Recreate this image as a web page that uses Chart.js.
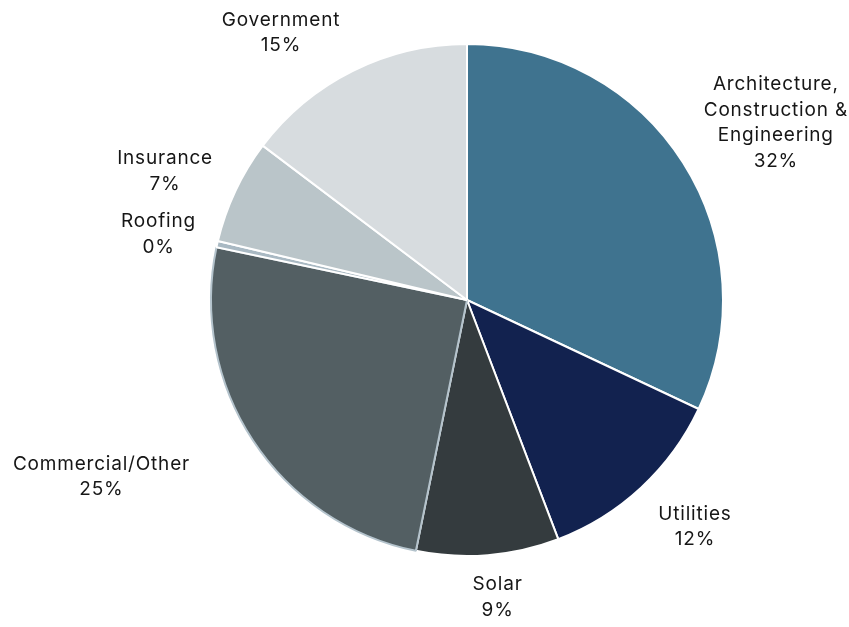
<!DOCTYPE html>
<html>
<head>
<meta charset="utf-8">
<script src="https://cdn.jsdelivr.net/npm/chart.js@4"></script>
<style>
    html, body { margin: 0; padding: 0; background: #ffffff; }
    #wrap { width: 849px; height: 627px; }
</style>
</head>
<body>
<div id="wrap"><canvas id="pieChart" width="849" height="627"></canvas></div>
<script>
const sectors = [
    ["Architecture,", "Construction &", "Engineering"],
    "Utilities",
    "Solar",
    "Commercial/Other",
    "Roofing",
    "Insurance",
    "Government",
];
const shares = [32.0, 12.2, 9.0, 25.1, 0.4, 6.6, 14.7];
const sliceColors = [
    "#3f738f",
    "#12224f",
    "#343b3e",
    "#535f63",
    "#a9b9c3",
    "#bac5c9",
    "#d7dcdf",
];
const edgeColors = ["#ffffff", "#ffffff", "#ffffff", "#b4c3cc", "#ffffff", "#ffffff", "#ffffff"];

// small shifts so labels sit where the layout had them
const labelNudge = [[3, 17], [12, -6], [6, -3], [-63, -22], [0, 3], [-5, 11], [-42, 22]];

const outsideLabels = {
    id: "outsideLabels",
    afterDatasetsDraw(chart, args, opts) {
        const ctx = chart.ctx;
        const meta = chart.getDatasetMeta(0);
        const data = chart.data.datasets[0].data;
        const total = data.reduce((a, b) => a + b, 0);
        ctx.save();
        ctx.font = opts.font;
        ctx.letterSpacing = opts.spacing;
        ctx.fillStyle = opts.color;
        ctx.textAlign = "center";
        ctx.textBaseline = "middle";
        meta.data.forEach((arc, i) => {
            const name = chart.data.labels[i];
            const lines = (Array.isArray(name) ? name : [name]).slice();
            lines.push(Math.round((data[i] / total) * 100) + "%");
            const w = Math.max(...lines.map((l) => ctx.measureText(l).width));
            const h = lines.length * opts.lineHeight;
            const mid = (arc.startAngle + arc.endAngle) / 2;
            const s = Math.cos(mid);
            const c = Math.sin(mid);
            const dist = arc.outerRadius + opts.gap + Math.abs(s) * w / 2 + Math.abs(c) * h / 2;
            const nx = labelNudge[i] ? labelNudge[i][0] : 0;
            const ny = labelNudge[i] ? labelNudge[i][1] : 0;
            const cx = arc.x + s * dist + nx;
            const cy = arc.y + c * dist + ny;
            lines.forEach((l, k) => {
                ctx.fillText(l, cx, cy - h / 2 + opts.lineHeight * (k + 0.5));
            });
        });
        ctx.restore();
    },
};

new Chart(document.getElementById("pieChart"), {
    type: "pie",
    data: {
        labels: sectors,
        datasets: [
            {
                data: shares,
                backgroundColor: sliceColors,
                borderColor: edgeColors,
                borderWidth: 2,
            },
        ],
    },
    options: {
        responsive: false,
        animation: false,
        layout: {
            padding: { left: 210, right: 125, top: 43, bottom: 70 },
        },
        plugins: {
            legend: { display: false },
            tooltip: { enabled: false },
            outsideLabels: {
                font: "19px Inter, 'Noto Sans', sans-serif",
                spacing: "0.8px",
                color: "#161616",
                lineHeight: 25.5,
                gap: 18,
            },
        },
    },
    plugins: [outsideLabels],
});
</script>
</body>
</html>
